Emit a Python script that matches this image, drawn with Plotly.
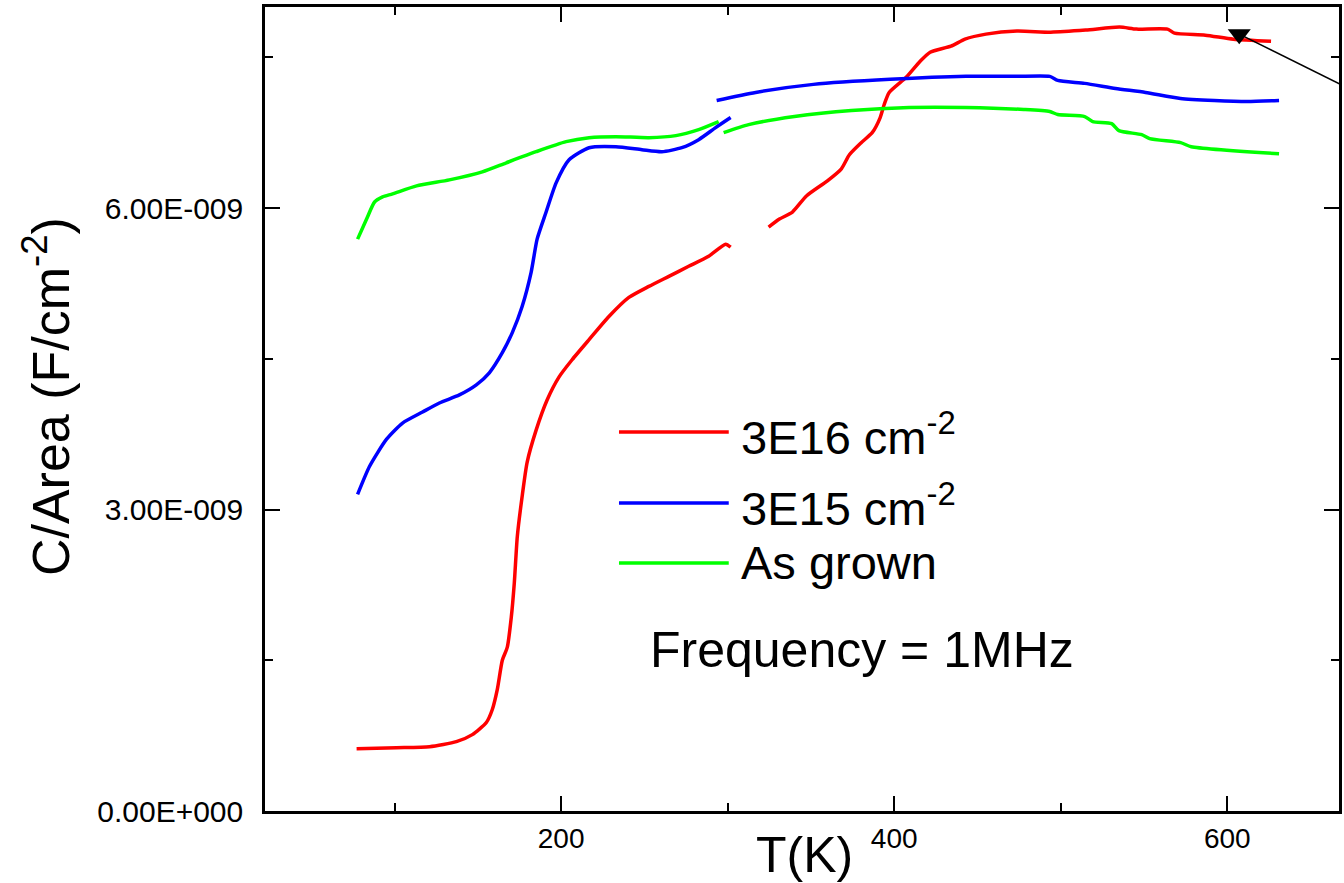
import plotly.graph_objects as go

# ---- C/Area vs temperature, three samples (capacitance in F/cm^2) ----
# Each sample was measured in two runs; the runs are separated by None.
t_3e16 = [77.2, 101.2, 121.0, 137.1, 146.7, 155.1, 158.7, 161.7, 164.7, 167.7,
          170.1, 171.9, 173.7, 176.6, 179.6, 185.0, 191.6, 198.8, 206.6, 216.8,
          228.7, 240.7, 252.7, 264.7, 276.6, 288.6, 298.8, 301.8,
          None,
          324.6, 331.1, 338.9, 347.3, 359.9, 368.3, 373.1, 380.2, 386.8, 391.6,
          394.0, 397.0, 407.2, 415.6, 421.6, 434.1, 442.5, 455.1, 473.7, 494.0,
          515.0, 535.3, 545.5, 564.1, 568.3, 586.8, 603.6, 626.3]
c_3e16 = [0.62, 0.63, 0.64, 0.69, 0.76, 0.88, 1.01, 1.21, 1.50, 1.63,
          1.93, 2.27, 2.73, 3.13, 3.47, 3.79, 4.09, 4.32, 4.49, 4.69,
          4.92, 5.11, 5.22, 5.32, 5.42, 5.52, 5.64, 5.61,
          None,
          5.81, 5.89, 5.96, 6.12, 6.27, 6.39, 6.53, 6.65, 6.75, 6.90,
          7.03, 7.15, 7.30, 7.46, 7.55, 7.61, 7.68, 7.73, 7.76, 7.75,
          7.77, 7.80, 7.78, 7.78, 7.74, 7.72, 7.68, 7.66]

t_3e15 = [77.8, 85.0, 95.2, 104.8, 116.8, 126.9, 138.9, 149.1, 156.9, 164.7,
          170.7, 176.6, 182.0, 185.6, 191.0, 197.0, 204.8, 216.8, 232.9, 248.5,
          260.5, 272.5, 282.6, 292.8, 301.8,
          None,
          293.4, 316.8, 351.5, 397.6, 443.1, 473.1, 493.4, 498.2, 514.4, 532.9,
          550.9, 571.9, 592.2, 612.0, 631.1]
c_3e15 = [3.15, 3.43, 3.70, 3.86, 3.97, 4.06, 4.14, 4.24, 4.36, 4.56,
          4.76, 5.02, 5.36, 5.69, 5.96, 6.25, 6.48, 6.60, 6.61, 6.58,
          6.56, 6.60, 6.68, 6.80, 6.90,
          None,
          7.07, 7.15, 7.23, 7.28, 7.31, 7.31, 7.31, 7.27, 7.24, 7.19,
          7.15, 7.09, 7.07, 7.06, 7.07]

t_grown = [77.8, 83.2, 88.0, 92.8, 98.8, 113.2, 132.9, 152.7, 167.1, 185.0,
           203.0, 216.8, 232.9, 252.7, 268.9, 282.6, 294.6,
           None,
           297.6, 312.6, 340.1, 374.3, 409.0, 443.1, 477.8, 493.4, 498.2, 514.4,
           519.2, 530.6, 534.9, 548.6, 553.4, 572.0, 578.4, 631.1]
c_grown = [5.69, 5.89, 6.06, 6.11, 6.14, 6.22, 6.28, 6.36, 6.45, 6.56,
           6.66, 6.70, 6.71, 6.70, 6.72, 6.78, 6.86,
           None,
           6.75, 6.83, 6.91, 6.97, 7.00, 7.00, 6.98, 6.96, 6.93, 6.91,
           6.86, 6.84, 6.77, 6.73, 6.69, 6.65, 6.61, 6.54]

series_names = ["3E16 cm<sup>-2</sup>", "3E15 cm<sup>-2</sup>", "As grown"]
series_colors = ["#FF0000", "#0000FF", "#00FF00"]

x_tickvals = [200, 400, 600]
x_minorvals = [100, 300, 500]
y_tickvals = [0.0, 3e-9, 6e-9]
y_ticktext = ["0.00E+000", "3.00E-009", "6.00E-009"]
y_minorvals = [1.5e-9, 4.5e-9, 7.5e-9]

# arrow marker pointing at the 3E16 curve near 600 K
arrow_tip = (607.2, 7.73e-9)
arrow_tail = (690.0, 7.05e-9)

FONT = "Arial, Liberation Sans, sans-serif"


def scale(vals):
    return [None if v is None else v * 1e-9 for v in vals]


fig = go.Figure()
for t, c, name, col in zip([t_3e16, t_3e15, t_grown],
                           [c_3e16, c_3e15, c_grown],
                           series_names, series_colors):
    fig.add_trace(go.Scatter(x=t, y=scale(c), mode="lines", name=name,
                             line=dict(color=col, width=3.5, shape="spline",
                                       smoothing=0.6),
                             connectgaps=False, showlegend=False))

# arrow: line + downward triangle head
fig.add_shape(type="line", xref="x", yref="y",
              x0=arrow_tip[0], y0=arrow_tip[1], x1=arrow_tail[0], y1=arrow_tail[1],
              line=dict(color="black", width=1.5))
fig.add_trace(go.Scatter(x=[arrow_tip[0]], y=[arrow_tip[1]], mode="markers",
                         marker=dict(symbol="triangle-down", size=20, color="black"),
                         showlegend=False, hoverinfo="skip"))

# legend drawn as line samples with labels
legend_y = [0.4714, 0.3831, 0.3085]
label_y = [0.4690, 0.3800, 0.3085]
for name, col, ly, ty in zip(series_names, series_colors, legend_y, label_y):
    fig.add_shape(type="line", xref="paper", yref="paper",
                  x0=0.3296, x1=0.4318, y0=ly, y1=ly,
                  line=dict(color=col, width=3.5))
    fig.add_annotation(xref="paper", yref="paper", x=0.441, y=ty,
                       xanchor="left", yanchor="middle", showarrow=False,
                       text=name, font=dict(family=FONT, size=47, color="black"))

fig.add_annotation(xref="paper", yref="paper", x=0.3566, y=0.2003,
                   xanchor="left", yanchor="middle", showarrow=False,
                   text="Frequency = 1MHz",
                   font=dict(family=FONT, size=50, color="black"))

# axis titles
fig.add_annotation(xref="paper", yref="paper", x=0.502, y=-0.0545,
                   xanchor="center", yanchor="middle", showarrow=False,
                   text="T(K)", font=dict(family=FONT, size=50, color="black"))
fig.add_annotation(xref="paper", yref="paper", x=-0.203, y=0.516,
                   xanchor="center", yanchor="middle", showarrow=False,
                   textangle=-90,
                   text="C/Area (F/cm<sup>-2</sup>)",
                   font=dict(family=FONT, size=52, color="black"))

axis_common = dict(showline=True, linecolor="black", linewidth=2.5,
                   mirror="allticks", ticks="inside", tickcolor="black",
                   tickwidth=2, ticklen=15, showgrid=False, zeroline=False)

fig.update_xaxes(range=[22.2, 667.1], tickmode="array", tickvals=x_tickvals,
                 ticklabelstandoff=1,
                 tickfont=dict(family=FONT, size=28, color="black"),
                 minor=dict(tickmode="array", tickvals=x_minorvals, ticks="inside",
                            ticklen=8, tickwidth=2, tickcolor="black", showgrid=False),
                 **axis_common)
fig.update_yaxes(range=[0, 8e-9], tickmode="array", tickvals=y_tickvals,
                 ticktext=y_ticktext, ticklabelstandoff=13,
                 tickfont=dict(family=FONT, size=30, color="black"),
                 minor=dict(tickmode="array", tickvals=y_minorvals, ticks="inside",
                            ticklen=8, tickwidth=2, tickcolor="black", showgrid=False),
                 **axis_common)

fig.update_layout(width=1344, height=883,
                  margin=dict(l=265, r=2, t=7, b=72),
                  paper_bgcolor="white", plot_bgcolor="white",
                  font=dict(family=FONT, color="black"))

fig.write_html("out.html")
